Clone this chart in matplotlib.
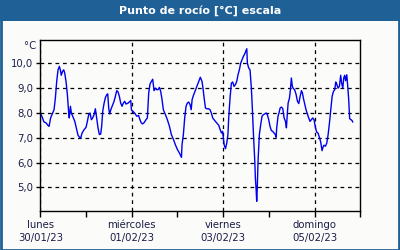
import matplotlib
matplotlib.use("Agg")
import matplotlib.pyplot as plt
from matplotlib.patches import Rectangle

# hours since 30/01/23 00:00
hours = [0, 0.9, 1.9, 3.0, 4.0, 4.6, 5.4, 6.5, 7.2, 7.9, 8.6, 9.3, 10.0, 10.5, 11.0, 11.7,
         12.3, 12.8, 13.5, 14.2, 14.9, 15.2, 15.8, 16.3, 17.0, 18.1, 19.1, 19.8, 20.5, 21.2,
         21.9, 23.0, 24.0, 24.7, 25.4, 26.1, 26.8, 27.5, 28.2, 28.9, 29.6, 30.3, 31.0, 31.7,
         32.2, 32.8, 33.5, 34.2, 34.9, 35.4, 35.9, 36.4, 37.0, 37.7, 38.7, 39.4, 40.1,
         40.8, 41.5, 42.2, 42.9, 43.6, 44.3, 45.0, 46.1, 47.5, 47.8, 48.5, 49.5, 50.6, 51.6,
         52.3, 53.0, 53.7, 54.4, 55.5, 56.2, 56.9, 57.6, 58.3, 59.0, 59.7, 60.4, 61.1, 61.8,
         62.5, 63.2, 63.9, 64.6, 65.7, 66.7, 67.8, 68.8, 69.9, 70.9, 72.0, 73.0, 74.1, 74.4,
         75.1, 75.8, 76.5, 77.2, 77.9, 78.6, 79.2, 79.7, 80.4, 81.1, 82.2, 83.2, 84.0, 84.9,
         85.4, 85.9, 86.7, 87.4, 88.4, 89.1, 89.8, 90.5, 91.6, 92.6, 93.7, 94.4, 95.1, 95.7,
         96.5, 97.2, 97.9, 98.5, 98.9, 99.6, 100.3, 101.0, 101.7, 102.4, 103.1, 103.8, 104.5,
         105.2, 105.9, 106.6, 107.3, 107.8, 108.4, 108.7, 109.4, 110.1, 110.8, 111.3, 111.9,
         112.6, 112.9, 113.3, 113.6, 113.9, 114.3, 115.0, 115.7, 116.4, 117.1, 117.8, 118.5,
         119.2, 119.9, 120.6, 121.3, 122.0, 122.7, 123.4, 123.8, 124.1, 124.8, 125.3, 125.9,
         126.6, 127.3, 128.0, 128.7, 129.2, 129.7, 130.1, 130.8, 131.3, 131.8, 132.3, 132.9,
         133.5, 134.3, 135.0, 135.7, 136.4, 137.1, 137.6, 138.1, 138.8, 139.5, 140.2, 140.9,
         141.6, 142.3, 143.0, 143.7, 144.4, 145.1, 145.8, 146.5, 147.2, 147.9, 148.4, 148.9,
         149.7, 150.4, 151.1, 151.8, 152.5, 153.2, 153.9, 154.6, 155.1, 155.6, 156.3, 157.0,
         157.7, 158.2, 158.8, 159.3, 159.8, 160.3, 160.9, 161.4, 161.9, 162.4, 163.1, 163.7,
         164.0]
dew_point = [7.98, 7.85, 7.64, 7.6, 7.5, 7.46, 7.8, 8.0, 8.13, 8.6, 9.27, 9.74, 9.88, 9.74,
             9.52, 9.68, 9.74, 9.61, 9.27, 8.74, 8.0, 7.8, 8.27, 8.0, 7.87, 7.66, 7.33, 7.1,
             7.03, 6.99, 7.19, 7.33, 7.42, 7.66, 7.93, 8.0, 7.73, 7.8, 7.93, 8.17, 7.8, 7.4,
             7.13, 7.15, 7.46, 8.09, 8.4, 8.63, 8.74, 8.77, 8.2, 7.96, 8.13, 8.27, 8.47, 8.67,
             8.9, 8.85, 8.67, 8.4, 8.27, 8.4, 8.47, 8.36, 8.4, 8.5, 8.13, 8.07, 8.0, 7.87, 7.9,
             7.73, 7.6, 7.56, 7.6, 7.73, 7.8, 8.8, 9.17, 9.27, 9.36, 8.9, 9.0, 8.94, 8.94,
             9.03, 8.87, 8.54, 8.13, 7.93, 7.73, 7.46, 7.13, 6.93, 6.72, 6.52, 6.39, 6.21, 6.72,
             7.13, 7.8, 8.27, 8.4, 8.44, 8.34, 8.13, 8.54, 8.71, 8.85, 9.07, 9.27, 9.44, 9.27,
             9.0, 8.67, 8.2, 8.17, 8.17, 8.13, 8.0, 7.8, 7.69, 7.6, 7.5, 7.33, 7.19, 7.26,
             6.72, 6.56, 6.79, 7.13, 7.8, 8.6, 9.2, 9.25, 9.07, 9.14, 9.27, 9.54, 9.74,
             10.01, 10.15, 10.28, 10.38, 10.48, 10.59, 10.01, 9.81, 9.74, 9.0, 8.2, 7.13,
             6.05, 5.38, 4.91, 4.44, 4.97, 6.05, 7.13, 7.53, 7.87, 7.93, 7.96, 8.0,
             7.93, 7.73, 7.46, 7.29, 7.26, 7.19, 7.13, 7.02, 7.4, 7.87, 8.0, 8.2,
             8.24, 8.17, 7.8, 7.66, 7.4, 8.0, 8.4, 8.6, 8.94, 9.41, 9.07, 8.98,
             8.94, 8.74, 8.47, 8.38, 8.67, 8.9, 8.81, 8.6, 8.36, 8.13, 7.96, 7.8,
             7.66, 7.73, 7.8, 7.73, 7.42, 7.23, 7.19, 7.02, 6.83, 6.48, 6.62, 6.7,
             6.66, 6.79, 7.13, 7.6, 8.13, 8.67, 8.87, 8.94, 9.25, 9.17, 9.0, 9.07,
             9.52, 9.2, 9.0, 9.41, 9.52, 9.3, 9.54, 9.07, 8.54, 7.77, 7.73, 7.69,
             7.64]

major_ticks = [0, 48, 96, 144]
major_labels = ["lunes\n30/01/23", "miércoles\n01/02/23", "viernes\n03/02/23", "domingo\n05/02/23"]
minor_ticks = [24, 72, 120, 168]
y_ticks = [5, 6, 7, 8, 9, 10]
y_labels = ["5,0", "6,0", "7,0", "8,0", "9,0", "10,0"]
title = "Punto de rocío [°C] escala"
unit = "°C"

txt = "#1c1c48"
bar = "#1f6096"

fig = plt.figure(figsize=(4, 2.5), dpi=100)
fig.patch.set_facecolor("#fbfcfa")
ax = fig.add_axes([0.1008, 0.1572, 0.8, 0.6816])
ax.set_facecolor("#fbfcfa")

ax.plot(hours, dew_point, color="#0000ee", lw=1.0)
ax.set_xlim(0, 168)
ax.set_ylim(4.06, 10.93)

ax.set_xticks(major_ticks)
ax.set_xticklabels(major_labels, color=txt, fontsize=7.3, linespacing=1.45)
ax.set_xticks(minor_ticks, minor=True)
ax.set_yticks(y_ticks)
ax.set_yticklabels(y_labels, color=txt, fontsize=7.3)
ax.tick_params(axis="x", which="both", length=4, width=1, color="black", pad=2.5)
ax.tick_params(axis="y", length=3, width=1, color="black", pad=2)
ax.grid(True, which="major", color="black", linestyle=(0, (3, 3)), lw=0.9)
for s in ax.spines.values():
    s.set_color("black")
    s.set_linewidth(1)

fig.text(30.5 / 400, 1 - 46 / 250, unit, color=txt, fontsize=7.3, ha="center", va="center")

# title bar and border
fig.patches.append(Rectangle((0, 1 - 20.5 / 250), 1, 20.5 / 250, transform=fig.transFigure,
                             facecolor=bar, edgecolor="none", zorder=0))
fig.patches.append(Rectangle((0.5 / 400, 0.5 / 250), 398.5 / 400, 248.5 / 250, transform=fig.transFigure,
                             facecolor="none", edgecolor=bar, lw=2, zorder=0))
fig.text(0.5, 1 - 10.5 / 250, title, color="white", fontsize=8, fontweight="bold",
         ha="center", va="center")

fig.savefig("out.png", dpi=100, facecolor=fig.get_facecolor())
